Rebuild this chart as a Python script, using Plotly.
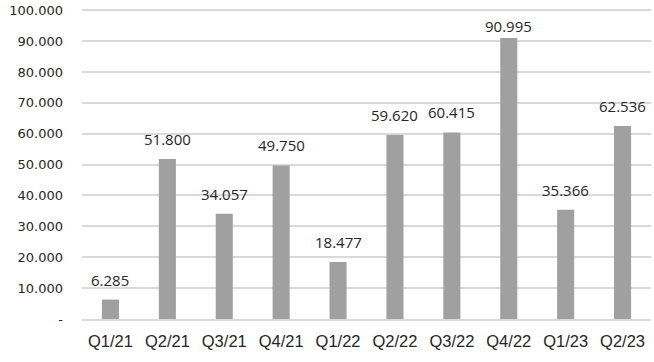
import plotly.graph_objects as go

categories = ["Q1/21", "Q2/21", "Q3/21", "Q4/21", "Q1/22", "Q2/22", "Q3/22", "Q4/22", "Q1/23", "Q2/23"]
values = [6285, 51800, 34057, 49750, 18477, 59620, 60415, 90995, 35366, 62536]
value_labels = ["6.285", "51.800", "34.057", "49.750", "18.477", "59.620", "60.415", "90.995", "35.366", "62.536"]
tick_vals = [0, 10000, 20000, 30000, 40000, 50000, 60000, 70000, 80000, 90000, 100000]
tick_text = ["-", "10.000", "20.000", "30.000", "40.000", "50.000", "60.000", "70.000", "80.000", "90.000", "100.000"]

Y_MAX = 100400

fig = go.Figure(go.Bar(
    x=categories, y=values,
    marker=dict(color="#A0A0A0", line=dict(width=0)),
    width=0.3, hoverinfo="x+y",
))

# data labels above bars; labels that would leave the plot area are pulled down
for cat, val, lab in zip(categories, values, value_labels):
    shift = 8 if val < 0.85 * Y_MAX else 0
    fig.add_annotation(
        x=cat, y=val, xref="x", yref="y", text=lab, showarrow=False,
        yanchor="bottom", yshift=shift,
        font=dict(family="Open Sans", size=15, color="#262626"),
    )

fig.update_layout(
    width=654, height=362, paper_bgcolor="white", plot_bgcolor="white",
    margin=dict(l=82, r=3, t=9, b=43, autoexpand=False), showlegend=False,
    xaxis=dict(tickfont=dict(family="Liberation Sans", size=16.5, color="#262626"),
               showgrid=False, showline=True, linecolor="#D9D9D9", linewidth=1.5, ticks="",
               ticklabelstandoff=6, automargin=False),
    yaxis=dict(range=[0, Y_MAX], tickvals=tick_vals, ticktext=tick_text,
               tickfont=dict(family="DejaVu Sans", size=13, color="#262626"),
               showgrid=True, gridcolor="#D9D9D9", gridwidth=1.5, zeroline=False,
               ticklabelstandoff=18, automargin=False),
)
fig.write_html("out.html", config={"displayModeBar": False},
               post_script="document.body.style.margin='0px';")
